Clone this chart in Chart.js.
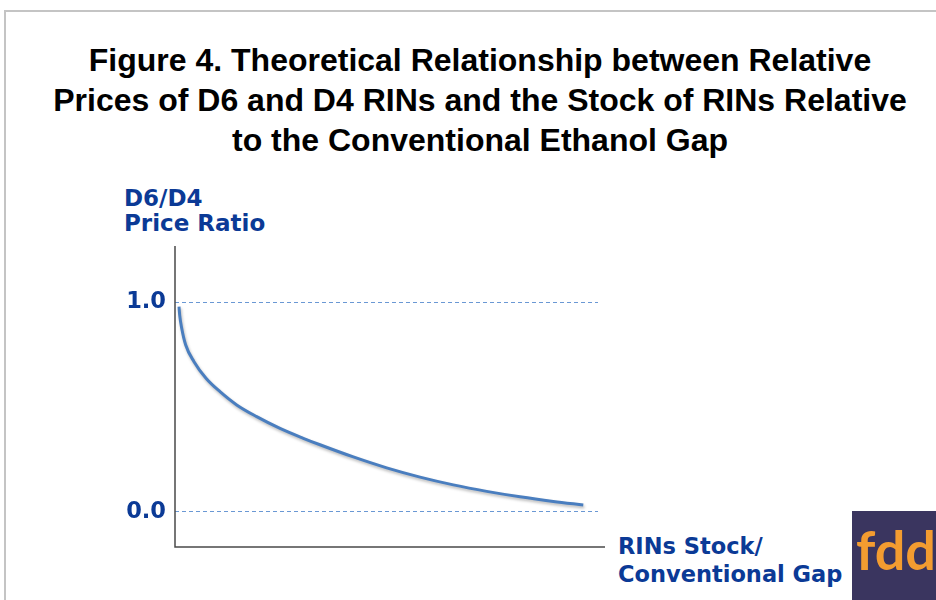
<!DOCTYPE html>
<html>
<head>
<meta charset="utf-8">
<script src="https://cdn.jsdelivr.net/npm/chart.js@4/dist/chart.umd.min.js"></script>
<style>
  html, body { margin:0; padding:0; background:#fff; }
  #wrap { position:relative; width:936px; height:600px; overflow:hidden; background:#fff; }
  #frame { position:absolute; left:4px; top:10px; width:940px; height:600px; border-left:2px solid #c4c4c4; border-top:2px solid #c4c4c4; }
  #title { position:absolute; left:0; top:40px; width:960px; text-align:center; font-family:"Liberation Sans", Arial, sans-serif; font-weight:bold; font-size:32px; line-height:40px; color:#000; }
  .lbl { position:absolute; font-family:"DejaVu Sans", Verdana, sans-serif; font-weight:bold; font-size:23px; color:#0b3a96; line-height:25px; white-space:nowrap; }
  #ylab { left:124px; top:186px; }
  #xlab { left:618px; top:532px; line-height:28px; font-size:22.5px; }
  #logo { position:absolute; left:852px; top:511px; width:90px; height:95px; background:#3a355f; overflow:hidden; }
  #logo span { position:absolute; left:4px; top:12px; font-family:Lato, "Open Sans", sans-serif; font-weight:bold; font-size:54px; color:#f39c30; line-height:54px; }
  canvas { position:absolute; left:0; top:0; }
</style>
</head>
<body>
<div id="wrap">
  <div id="frame"></div>
  <div id="title">Figure 4. Theoretical Relationship between Relative<br>Prices of D6 and D4 RINs and the Stock of RINs Relative<br>to the Conventional Ethanol Gap</div>
  <div class="lbl" id="ylab">D6/D4<br>Price Ratio</div>
  <div class="lbl" id="xlab">RINs Stock/<br>Conventional Gap</div>
  <div id="logo"><span>fdd</span></div>
  <div style="position:absolute;left:0;top:0;width:936px;height:600px;"><canvas id="c" width="936" height="600"></canvas></div>
</div>
<script>
// Stock of RINs relative to the conventional ethanol gap (arbitrary units, 0 = origin)
const stockRatio = [0.0093, 0.0109, 0.0156, 0.0249, 0.0442, 0.0721, 0.1047, 0.1435, 0.1900, 0.2442, 0.2984, 0.3372, 0.4147, 0.4923, 0.5698, 0.6472, 0.7249, 0.8023, 0.8798, 0.9495];
// D6/D4 price ratio
const priceRatio = [0.978, 0.938, 0.875, 0.795, 0.716, 0.637, 0.573, 0.510, 0.454, 0.398, 0.351, 0.320, 0.262, 0.210, 0.166, 0.129, 0.098, 0.072, 0.050, 0.033];
// Labelled y ticks
const yTicks = [0.0, 1.0];

const points = stockRatio.map((x, i) => ({ x: x, y: priceRatio[i] }));

const axisLines = {
  id: 'axisLines',
  afterDraw(chart) {
    const { ctx, chartArea: a } = chart;
    ctx.save();
    ctx.strokeStyle = '#4a4a4a';
    ctx.lineWidth = 1.5;
    ctx.beginPath();
    ctx.moveTo(a.left, a.top);
    ctx.lineTo(a.left, a.bottom);
    ctx.lineTo(a.right + 7, a.bottom);
    ctx.stroke();
    ctx.restore();
  }
};
const shadow = {
  id: 'shadow',
  beforeDatasetDraw(chart) {
    const ctx = chart.ctx;
    ctx.save();
    ctx.shadowColor = 'rgba(0,0,0,0.28)';
    ctx.shadowBlur = 3;
    ctx.shadowOffsetX = 1;
    ctx.shadowOffsetY = 2;
  },
  afterDatasetDraw(chart) { chart.ctx.restore(); }
};

new Chart(document.getElementById('c'), {
  type: 'line',
  data: {
    datasets: [{
      data: points,
      borderColor: '#4a7ebf',
      borderWidth: 3,
      pointRadius: 0,
      fill: false,
      cubicInterpolationMode: 'monotone',
      borderCapStyle: 'butt'
    }]
  },
  options: {
    responsive: false,
    animation: false,
    events: [],
    layout: { padding: { top: 246, bottom: 53, left: 0, right: 338 } },
    plugins: { legend: { display: false }, title: { display: false }, tooltip: { enabled: false } },
    scales: {
      x: { type: 'linear', display: false, min: 0, max: 423 / 430 },
      y: {
        type: 'linear',
        min: -0.167,
        max: 1.267,
        afterFit(scale) { scale.width = 175; },
        afterBuildTicks(scale) { scale.ticks = yTicks.map(v => ({ value: v })); },
        grid: { color: '#6a98d4', lineWidth: 1, drawTicks: false },
        border: { display: false, dash: [4, 3] },
        ticks: {
          padding: 9,
          color: '#0b3a96',
          font: { family: '"DejaVu Sans", Verdana, sans-serif', weight: 'bold', size: 22.5 },
          callback: v => Number(v).toFixed(1)
        }
      }
    }
  },
  plugins: [axisLines, shadow]
});
</script>
</body>
</html>
